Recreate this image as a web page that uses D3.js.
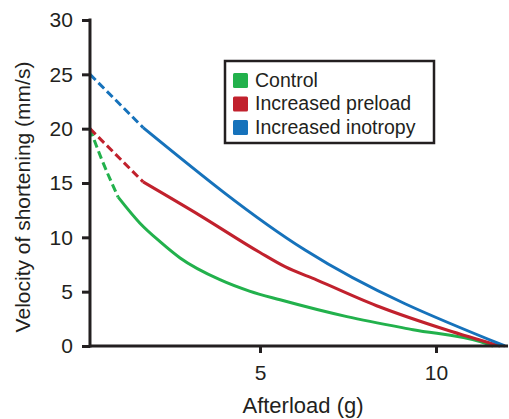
<!DOCTYPE html>
<html>
<head>
<meta charset="utf-8">
<script src="https://cdn.jsdelivr.net/npm/d3@7"></script>
<style>
  body { margin: 0; background: #fff; }
  text { font-family: "Liberation Sans", Arial, sans-serif; fill: #231f20; }
</style>
</head>
<body>
<svg id="chart" width="509" height="419"></svg>
<script>
  // values
  var seriesNames = ['Control', 'Increased preload', 'Increased inotropy']
  var seriesColors = ['#22b14c', '#c1212d', '#1672bb']

  var controlX = [0.17, 0.5, 0.97, 1.59, 2.16, 2.73, 3.86, 4.7, 5.57, 7.47, 9.35, 11.25, 11.62]
  var controlY = [20, 17.2, 13.7, 11.3, 9.6, 8.1, 6.1, 5.05, 4.25, 2.7, 1.5, 0.4, 0]
  var preloadX = [0.17, 1.68, 3.3, 5.0, 5.71, 6.62, 8.41, 10.31, 11.82]
  var preloadY = [20, 15.1, 12.0, 8.6, 7.3, 6.07, 3.59, 1.47, 0]
  var inotropyX = [0.17, 1.68, 6.28, 11.96]
  var inotropyY = [25, 20.1, 8.83, 0]
  // last index of the dashed (extrapolated) part of each curve
  var dashedUntil = [2, 1, 1]

  var xTicks = [5, 10]
  var yTicks = [0, 5, 10, 15, 20, 25, 30]

  var svg = d3.select('#chart')

  var x = d3.scaleLinear().domain([0, 12]).range([84, 506.4])
  var y = d3.scaleLinear().domain([0, 30]).range([346, 20])
  var xStart = 0.17

  var series = [
    {name: seriesNames[0], xs: controlX, ys: controlY},
    {name: seriesNames[1], xs: preloadX, ys: preloadY},
    {name: seriesNames[2], xs: inotropyX, ys: inotropyY}
  ]

  var line = d3.line()
    .x(function(d){ return x(d[0]) })
    .y(function(d){ return y(d[1]) })
    .curve(d3.curveMonotoneX)

  // axes
  svg.append('g')
    .attr('transform', 'translate(' + x(xStart) + ',0)')
    .call(d3.axisLeft(y).tickValues(yTicks).tickSize(8).tickSizeOuter(0).tickPadding(9))
  svg.append('g')
    .attr('transform', 'translate(0,' + y(0) + ')')
    .call(d3.axisBottom(x).tickValues(xTicks).tickSize(7).tickSizeOuter(0).tickPadding(12))

  svg.selectAll('.domain').remove()
  svg.selectAll('.tick line').style('stroke', '#231f20').style('stroke-width', 3)
  svg.selectAll('.tick text')
    .style('font-size', '21px')
    .style('font-family', '"Liberation Sans", Arial, sans-serif')
    .style('fill', '#231f20')

  // curves
  series.forEach(function(s, i){
    var pts = s.xs.map(function(v, j){ return [v, s.ys[j]] })
    var k = dashedUntil[i]
    svg.append('path')
      .attr('d', line(pts.slice(0, k + 1)))
      .style('fill', 'none')
      .style('stroke', seriesColors[i])
      .style('stroke-width', 3)
      .style('stroke-dasharray', '8,4')
    svg.append('path')
      .attr('d', line(pts.slice(k)))
      .style('fill', 'none')
      .style('stroke', seriesColors[i])
      .style('stroke-width', 3)
  })

  // axis lines on top
  svg.append('line')
    .attr('x1', x(xStart)).attr('x2', x(xStart))
    .attr('y1', y(30) - 1.5).attr('y2', y(0) + 1.5)
    .style('stroke', '#231f20').style('stroke-width', 3)
  svg.append('line')
    .attr('x1', x(xStart)).attr('x2', 508)
    .attr('y1', y(0)).attr('y2', y(0))
    .style('stroke', '#231f20').style('stroke-width', 3)

  // axis titles
  svg.append('text')
    .attr('x', 303).attr('y', 413)
    .attr('text-anchor', 'middle')
    .style('font-size', '22px')
    .text('Afterload (g)')
  svg.append('text')
    .attr('transform', 'translate(30,197) rotate(-90)')
    .attr('text-anchor', 'middle')
    .style('font-size', '21px')
    .text('Velocity of shortening (mm/s)')

  // legend
  var legend = svg.append('g')
  legend.append('rect')
    .attr('x', 225).attr('y', 61)
    .attr('width', 209).attr('height', 82)
    .style('fill', '#fff')
    .style('stroke', '#231f20')
    .style('stroke-width', 2.5)
  var rows = legend.selectAll('.row')
    .data(seriesNames)
    .enter().append('g')
    .attr('class', 'row')
    .attr('transform', function(d, i){ return 'translate(233,' + (73 + i * 23.5) + ')' })
  rows.append('rect')
    .attr('width', 15).attr('height', 15)
    .attr('rx', 1.5)
    .style('fill', function(d, i){ return seriesColors[i] })
  rows.append('text')
    .attr('x', 22).attr('y', 13.5)
    .style('font-size', '19.5px')
    .text(function(d){ return d })
</script>
</body>
</html>
